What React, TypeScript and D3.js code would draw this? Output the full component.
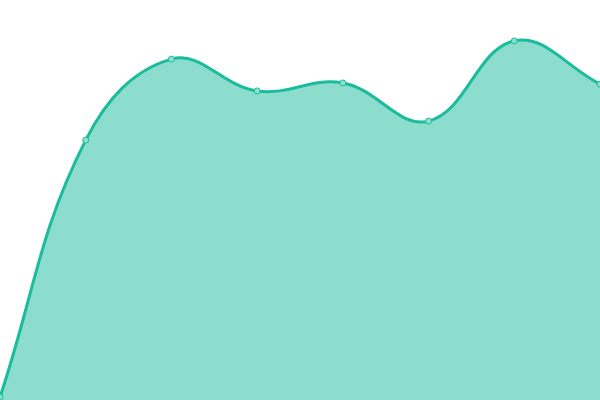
import React from 'react';
import * as d3 from 'd3';

const categories = ['1', '2', '3', '4', '5', '6', '7', '8'];
const values = [0, 64.7, 85.1, 77.1, 79.1, 69.5, 89.7, 78.8];

const W = 600;
const H = 400;
const TENSION = 0.4;

type Pt = [number, number];

// spline like the usual "tension" bezier: control points follow the neighbours
function splinePath(pts: Pt[], ctx: d3.Path, close: boolean) {
  const cps = pts.map((cur, i) => {
    const prev = pts[i - 1] || cur;
    const next = pts[i + 1] || cur;
    const d01 = Math.hypot(cur[0] - prev[0], cur[1] - prev[1]);
    const d12 = Math.hypot(next[0] - cur[0], next[1] - cur[1]);
    let s01 = d01 / (d01 + d12);
    let s12 = d12 / (d01 + d12);
    if (isNaN(s01)) s01 = 0;
    if (isNaN(s12)) s12 = 0;
    const fa = TENSION * s01;
    const fb = TENSION * s12;
    return {
      prev: [cur[0] - fa * (next[0] - prev[0]), cur[1] - fa * (next[1] - prev[1])] as Pt,
      next: [cur[0] + fb * (next[0] - prev[0]), cur[1] + fb * (next[1] - prev[1])] as Pt,
    };
  });
  ctx.moveTo(pts[0][0], pts[0][1]);
  for (let i = 1; i < pts.length; i++) {
    const a = cps[i - 1].next;
    const b = cps[i].prev;
    ctx.bezierCurveTo(a[0], a[1], b[0], b[1], pts[i][0], pts[i][1]);
  }
  if (close) {
    ctx.lineTo(pts[pts.length - 1][0], H);
    ctx.lineTo(pts[0][0], H);
    ctx.closePath();
  }
  return ctx.toString();
}

const App: React.FC = () => {
  const x = d3.scalePoint<string>().domain(categories).range([0, W]);
  const y = d3.scaleLinear().domain([0, 100]).range([397, 0]);

  const pts: Pt[] = categories.map((c, i) => [x(c)!, y(values[i])]);

  const areaD = splinePath(pts, d3.path(), true);
  const lineD = splinePath(pts, d3.path(), false);

  return (
    <svg width={W} height={H} style={{ position: 'absolute', top: 0, left: 0 }}>
      <path d={areaD} fill="#1abc9c" fillOpacity={0.5} />
      <path d={lineD} fill="none" stroke="#1abc9c" strokeWidth={3} />
      {pts.map((p, i) => (
        <circle key={i} cx={p[0]} cy={p[1]} r={3} fill="#8ddecd" stroke="#1abc9c" strokeWidth={1} />
      ))}
    </svg>
  );
};

export default App;
